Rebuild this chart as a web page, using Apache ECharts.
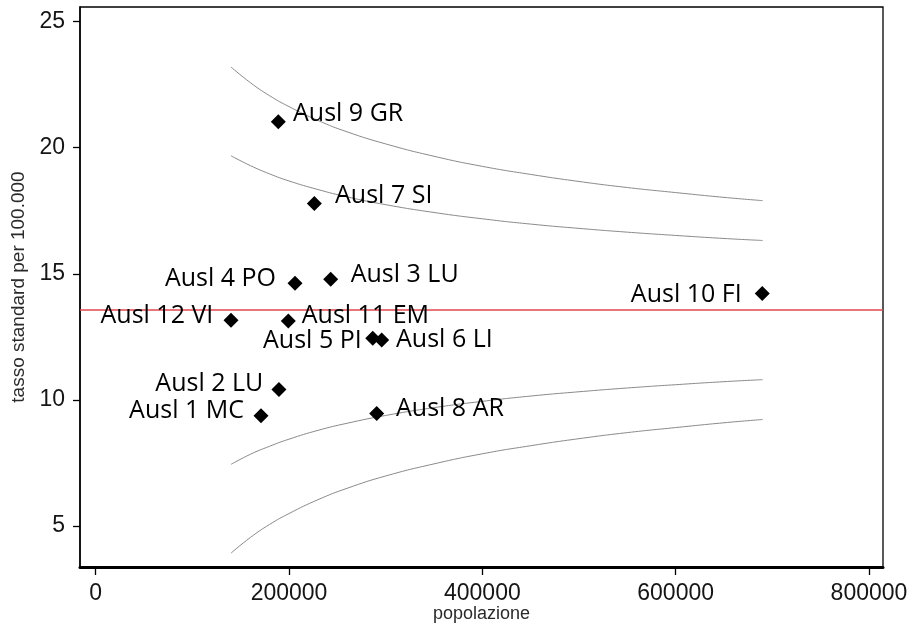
<!DOCTYPE html>
<html>
<head>
<meta charset="utf-8">
<script src="https://cdn.jsdelivr.net/npm/echarts@6/dist/echarts.min.js"></script>
<style>
  html, body { margin: 0; padding: 0; background: #fff; }
  #chart { width: 915px; height: 626px; }
</style>
</head>
<body>
<div id="chart"></div>
<script>
// Aziende USL: popolazione e tasso standardizzato per 100.000
const districts = ['Ausl 1 MC', 'Ausl 2 LU', 'Ausl 3 LU', 'Ausl 4 PO', 'Ausl 5 PI', 'Ausl 6 LI',
                   'Ausl 7 SI', 'Ausl 8 AR', 'Ausl 9 GR', 'Ausl 10 FI', 'Ausl 11 EM', 'Ausl 12 VI'];
const population = [171000, 189600, 243100, 206200, 286600, 295900,
                    226200, 290700, 188900, 689600, 199300, 140000];
const rate = [9.37, 10.41, 14.78, 14.62, 12.44, 12.37,
              17.79, 9.46, 21.03, 14.22, 13.13, 13.16];

// Tasso medio regionale
const meanRate = 13.56;

// Limiti di controllo del funnel plot (95% e 99.8%)
const limitPopulation = [140000, 160000, 180000, 200000, 230000, 260000, 300000, 350000,
                         400000, 450000, 500000, 550000, 600000, 650000, 690000];
const upper998 = [23.20, 22.58, 22.06, 21.63, 21.08, 20.63, 20.15, 19.66,
                  19.26, 18.94, 18.66, 18.42, 18.22, 18.03, 17.90];
const upper95 = [19.68, 19.29, 18.96, 18.68, 18.34, 18.05, 17.74, 17.43,
                 17.18, 16.97, 16.80, 16.65, 16.52, 16.40, 16.32];
const lower95 = [7.44, 7.84, 8.16, 8.44, 8.79, 9.07, 9.38, 9.69,
                 9.94, 10.15, 10.32, 10.47, 10.60, 10.72, 10.80];
const lower998 = [3.92, 4.54, 5.06, 5.49, 6.04, 6.49, 6.98, 7.46,
                  7.86, 8.18, 8.46, 8.70, 8.90, 9.09, 9.22];

// Tick labels
const xTicks = [0, 200000, 400000, 600000, 800000];
const yTicks = [5, 10, 15, 20, 25];

// Label placement per district: side, gap from marker, vertical shift
const labelLayout = [
  ['left', 9.5, -4.4], ['left', 8.2, -5.5], ['right', 12.5, -4.5], ['left', 11.5, -4],
  ['left', 3.5, 2.5], ['right', 6.8, -0.2], ['right', 13.2, -7.5], ['right', 11.8, -4.5],
  ['right', 7.2, -7.4], ['left', 13.1, 1.0], ['right', 5.9, -4.9], ['left', 10.2, -4.2]
];

const zip = (xs, ys) => xs.map((x, i) => [x, ys[i]]);

const points = districts.map((name, i) => ({
  name: name,
  value: [population[i], rate[i]],
  label: {
    position: labelLayout[i][0],
    distance: labelLayout[i][1],
    offset: [0, labelLayout[i][2]]
  }
}));

const limitLine = (values) => ({
  type: 'line',
  data: zip(limitPopulation, values),
  symbol: 'none',
  smooth: true,
  silent: true,
  z: 2,
  lineStyle: { color: '#8a8a8a', width: 1 }
});

const tickFont = { fontFamily: 'Liberation Sans', fontSize: 23, color: '#151515' };

const chart = echarts.init(document.getElementById('chart'));
chart.setOption({
  animation: false,
  backgroundColor: '#fff',
  grid: {
    left: 80, right: 32, top: 7, bottom: 59,
    outerBoundsMode: 'none',
    containLabel: false,
    show: true, borderColor: '#000', borderWidth: 1.3, backgroundColor: 'transparent'
  },
  xAxis: {
    type: 'value',
    min: -16240, max: 814500,
    name: 'popolazione',
    nameLocation: 'middle',
    nameGap: 38,
    nameMoveOverlap: false,
    nameTextStyle: { fontFamily: 'Liberation Sans', fontSize: 18, color: '#2a2a2a' },
    axisLine: { show: true, onZero: false, lineStyle: { color: '#000', width: 3 } },
    axisTick: { show: true, length: 8, customValues: xTicks, lineStyle: { color: '#000', width: 1.3 } },
    axisLabel: Object.assign({ margin: 15, customValues: xTicks, formatter: v => String(v) }, tickFont),
    splitLine: { show: false }
  },
  yAxis: {
    type: 'value',
    min: 3.37, max: 25.58,
    name: 'tasso standard per 100.000',
    nameLocation: 'middle',
    nameGap: 52,
    nameMoveOverlap: false,
    nameTextStyle: { fontFamily: 'Liberation Sans', fontSize: 19, color: '#2a2a2a' },
    axisLine: { show: true, onZero: false, lineStyle: { color: '#000', width: 1.5 } },
    axisTick: { show: true, length: 7, customValues: yTicks, lineStyle: { color: '#000', width: 1.3 } },
    axisLabel: Object.assign({ margin: 15, customValues: yTicks, formatter: v => String(v) }, tickFont),
    splitLine: { show: false }
  },
  series: [
    limitLine(upper998),
    limitLine(upper95),
    limitLine(lower95),
    limitLine(lower998),
    {
      type: 'scatter',
      data: points,
      symbol: 'diamond',
      symbolSize: 15,
      z: 5,
      itemStyle: { color: '#000', opacity: 1 },
      label: {
        show: true,
        formatter: p => p.name,
        fontFamily: 'Open Sans',
        fontSize: 25,
        color: '#000'
      },
      markLine: {
        silent: true,
        symbol: 'none',
        label: { show: false },
        lineStyle: { color: '#e0474c', width: 1.5, type: 'solid' },
        data: [{ yAxis: meanRate }]
      }
    }
  ]
});
</script>
</body>
</html>
